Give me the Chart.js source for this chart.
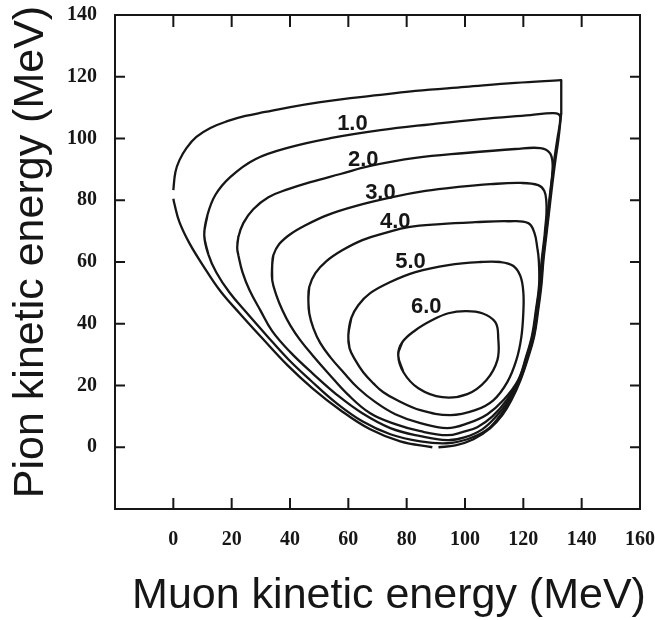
<!DOCTYPE html>
<html>
<head>
<meta charset="utf-8">
<title>Pion / muon kinetic energy contours</title>
<script src="https://cdn.jsdelivr.net/npm/chart.js@4.4.1/dist/chart.umd.min.js"></script>
<style>
  body { margin: 0; background: #fff; }
  canvas { display: block; }
</style>
</head>
<body>
<canvas id="grafico" width="655" height="620"></canvas>
<script>
// valores: [energia cinetica muon, energia cinetica pion] en MeV
const outerTop = [[0,83.3],[0.7,89.1],[2.1,93.0],[4.5,96.9],[7.9,100.5],[12.7,103.4],[18.5,105.6],[24.7,107.3],[31.5,108.6],[40.1,110.2],[50.4,111.8],[60.7,113.1],[71.0,114.1],[83.0,115.4],[100.1,116.7],[117.3,118.0],[133.0,118.9]];
const outerEdge = [[133.0,118.9],[133.0,108.2]];
const outerRight = [[133.0,108.2],[132.0,99.5],[131.0,93.0],[129.9,84.9],[128.9,76.8],[127.9,68.7],[126.9,60.6],[126.2,52.5],[125.1,44.4],[123.8,36.3],[121.7,29.2],[119.0,21.7],[115.9,15.2],[112.8,10.4],[108.7,6.2],[102.9,2.6],[96.7,0.6],[90.9,0]];
const outerLow = [[88.8,0],[77.8,1.9],[67.5,5.8],[57.3,12.0],[47.7,19.1],[39.1,26.6],[30.5,35.3],[23.0,43.1],[16.1,50.6],[10.3,58.7],[5.5,66.1],[2.1,72.9],[0.3,79.1],[0,80.5]];

const contour1 = [[10.6,68.7],[11.7,75.2],[14.4,81.7],[19.5,87.5],[28.1,93.3],[40.1,97.2],[53.8,100.1],[71.0,102.7],[88.1,104.6],[105.3,106.3],[122.4,107.6],[129.9,108.2],[132.0,107.9],[132.7,106.6],[131.6,99.5],[130.6,93.0],[129.6,84.9],[128.7,76.8],[127.7,68.7],[126.7,60.6],[126.0,52.5],[124.9,44.4],[123.6,36.3],[121.5,29.2],[118.8,21.7],[115.4,15.2],[111.8,10.0],[107.3,5.5],[100.8,2.6],[93.9,1.3],[84.7,1.9],[74.4,4.2],[64.8,8.4],[55.5,14.6],[47.0,21.7],[39.4,28.5],[31.9,36.3],[25.0,43.7],[19.2,50.2],[14.7,56.7],[12.0,62.5],[10.6,68.7]];
const contour2 = [[21.9,64.5],[22.3,68.1],[24.0,72.6],[27.4,77.1],[32.6,81.0],[39.4,83.6],[47.0,85.9],[57.3,88.5],[67.5,91.1],[83.0,93.7],[100.1,95.3],[117.3,96.6],[125.8,96.9],[129.0,95.4],[130.0,92.3],[129.9,88.3],[129.5,84.9],[128.5,76.8],[127.5,68.7],[126.5,60.6],[125.8,52.5],[124.7,44.4],[123.4,36.3],[121.3,29.2],[118.6,21.7],[114.9,15.2],[110.7,10.0],[105.9,5.8],[99.8,3.2],[93.9,2.3],[84.7,3.6],[74.4,6.2],[64.8,11.0],[56.2,16.9],[48.0,23.7],[40.1,30.8],[33.9,37.6],[29.8,44.4],[26.1,50.9],[23.7,56.7],[22.3,62.2],[21.9,64.5]];
const contour3 = [[33.9,59.0],[34.3,62.2],[36.3,65.8],[40.1,69.0],[45.3,71.9],[52.8,75.2],[62.4,78.1],[75.1,81.0],[86.4,83.0],[97.7,84.3],[108.7,85.2],[119.0,85.6],[125.1,84.9],[127.2,83.0],[127.9,79.4],[127.9,75.2],[127.5,71.0],[127.3,68.7],[126.3,60.6],[125.6,52.5],[124.5,44.4],[123.2,36.3],[121.1,29.2],[118.4,21.7],[114.2,15.2],[109.4,10.0],[104.2,6.5],[99.1,4.9],[93.9,3.9],[84.7,5.2],[76.1,7.5],[67.5,11.0],[59.7,17.2],[53.1,24.0],[48.0,29.5],[43.5,34.7],[40.1,39.5],[37.4,44.4],[35.3,49.3],[33.9,54.1],[33.9,59.0]];
const contour4 = [[46.3,47.6],[46.6,51.9],[48.7,56.4],[52.5,60.3],[57.9,63.8],[64.8,67.1],[72.7,69.4],[80.6,71.3],[91.5,72.3],[103.5,72.9],[114.9,73.2],[121.7,72.6],[123.8,69.4],[124.8,64.5],[125.3,60.6],[125.4,52.5],[124.3,44.4],[123.0,36.3],[120.9,29.2],[118.2,21.7],[113.1,15.2],[107.7,10.7],[101.1,7.8],[93.9,6.2],[84.7,7.8],[76.1,10.7],[69.3,14.6],[63.4,19.1],[58.3,24.3],[53.8,29.2],[50.4,33.7],[48.0,38.6],[46.6,43.4],[46.3,47.6]];
const contour5 = [[60.0,36.3],[61.0,41.8],[63.4,46.0],[67.5,49.9],[74.4,53.5],[83.0,56.7],[94.3,59.0],[105.3,60.0],[112.1,60.0],[116.6,58.7],[119.0,55.4],[120.0,50.2],[120.0,43.7],[119.3,35.6],[117.6,28.2],[114.5,21.1],[109.7,15.2],[103.5,12.0],[95.0,10.4],[84.7,12.0],[76.8,15.2],[72.0,17.8],[68.6,20.7],[65.1,24.3],[62.4,28.2],[60.4,32.1],[60.0,36.3]];
const contour6 = [[77.1,29.8],[78.5,34.0],[83.0,37.9],[88.8,41.2],[94.3,43.4],[100.1,44.1],[105.9,43.4],[110.4,40.5],[111.4,35.3],[111.1,28.2],[107.3,21.7],[100.8,17.2],[92.2,16.2],[84.0,19.1],[78.9,24.3],[77.1,29.8]];

// etiquetas de nivel y donde se leen en la figura
const niveles = ["1.0", "2.0", "3.0", "4.0", "5.0", "6.0"];
const nivelX = [61.4, 65.1, 71.0, 76.1, 81.3, 86.7];
const nivelY = [104.7, 93.0, 82.3, 72.9, 60.0, 45.4];

const tituloX = "Muon kinetic energy (MeV)";
const tituloY = "Pion kinetic energy (MeV)";

const tinta = "#161616";

// en los contornos cerrados se repite un punto a cada lado para que la union quede suave
const curva = (puntos, tension = 0.4) => {
  const n = puntos.length;
  const cerrada = n > 3 && puntos[0][0] === puntos[n - 1][0] && puntos[0][1] === puntos[n - 1][1];
  const lista = cerrada ? [puntos[n - 2], ...puntos, puntos[1]] : puntos;
  return {
    data: lista.map(([x, y]) => ({ x, y })),
    showLine: true,
    pointRadius: 0,
    borderColor: tinta,
    borderWidth: 2.3,
    borderJoinStyle: "round",
    tension
  };
};

// marco, marcas hacia dentro, etiquetas de contorno y titulos
const marco = {
  id: "marco",
  afterDraw(chart) {
    const { ctx, chartArea: a, scales: { x, y } } = chart;
    ctx.save();
    ctx.strokeStyle = tinta;
    ctx.lineWidth = 2;
    ctx.strokeRect(a.left, a.top, a.right - a.left, a.bottom - a.top);

    ctx.beginPath();
    x.ticks.forEach(t => {
      if (t.value <= x.min || t.value >= x.max) return;
      const px = x.getPixelForValue(t.value);
      ctx.moveTo(px, a.bottom); ctx.lineTo(px, a.bottom - 11);
      ctx.moveTo(px, a.top); ctx.lineTo(px, a.top + 12);
    });
    y.ticks.forEach(t => {
      if (t.value <= y.min || t.value >= y.max) return;
      const py = y.getPixelForValue(t.value);
      ctx.moveTo(a.left, py); ctx.lineTo(a.left + 10, py);
      ctx.moveTo(a.right, py); ctx.lineTo(a.right - 10, py);
    });
    ctx.stroke();

    ctx.fillStyle = tinta;
    ctx.font = "bold 22px 'Liberation Sans', Arial, sans-serif";
    ctx.textAlign = "center";
    ctx.textBaseline = "middle";
    niveles.forEach((txt, i) => {
      ctx.fillText(txt, x.getPixelForValue(nivelX[i]), y.getPixelForValue(nivelY[i]));
    });

    ctx.font = "43px 'Liberation Sans', Arial, sans-serif";
    ctx.textBaseline = "alphabetic";
    ctx.fillText(tituloX, 389, 608);
    ctx.translate(43, 252);
    ctx.rotate(-Math.PI / 2);
    ctx.fillText(tituloY, 0, 0);
    ctx.restore();
  }
};

const fuenteTicks = { family: "'Liberation Serif', 'Times New Roman', serif", size: 20, weight: "bold" };

new Chart(document.getElementById("grafico"), {
  type: "scatter",
  data: {
    datasets: [
      curva(outerTop),
      curva(outerEdge, 0),
      curva(outerRight),
      curva(outerLow),
      curva(contour1),
      curva(contour2),
      curva(contour3),
      curva(contour4),
      curva(contour5),
      curva(contour6)
    ]
  },
  options: {
    responsive: false,
    animation: false,
    devicePixelRatio: 1,
    layout: { padding: { top: 15, right: 15, left: 0, bottom: 0 } },
    plugins: { legend: { display: false }, tooltip: { enabled: false } },
    scales: {
      x: {
        type: "linear",
        min: -20,
        max: 160,
        grid: { display: false, drawTicks: false },
        border: { display: false },
        ticks: {
          stepSize: 20,
          autoSkip: false,
          maxRotation: 0,
          padding: 19,
          color: tinta,
          font: fuenteTicks,
          callback: v => (v === -20 ? "" : v)
        },
        afterFit: s => { s.height = 111; s.paddingLeft = 0; s.paddingRight = 0; }
      },
      y: {
        type: "linear",
        min: -20,
        max: 140,
        grid: { display: false, drawTicks: false },
        border: { display: false },
        ticks: {
          stepSize: 20,
          autoSkip: false,
          padding: 18,
          color: tinta,
          font: fuenteTicks,
          callback: v => (v === -20 ? "" : v)
        },
        afterFit: s => { s.width = 115; s.paddingTop = 0; s.paddingBottom = 0; }
      }
    }
  },
  plugins: [marco]
});
</script>
</body>
</html>
